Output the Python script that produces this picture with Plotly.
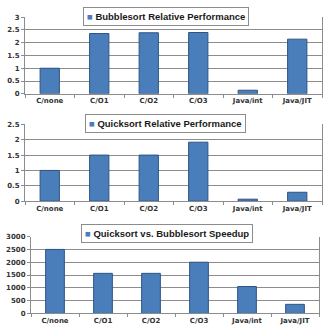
import plotly.graph_objects as go

# Benchmark configurations
categories = ["C/none", "C/O1", "C/O2", "C/O3", "Java/int", "Java/JIT"]

# Relative performance (C/none = 1)
bubblesort_rel = [1.0, 2.36, 2.39, 2.40, 0.14, 2.14]
quicksort_rel = [1.0, 1.50, 1.50, 1.92, 0.065, 0.29]

# Quicksort speedup over bubblesort
speedup = [2500, 1565, 1565, 2000, 1050, 355]

titles = [
    "Bubblesort Relative Performance",
    "Quicksort Relative Performance",
    "Quicksort vs. Bubblesort Speedup",
]

W, H = 331, 335
BAR = "#4A7EBB"
EDGE = "#2F5483"
GRID = "#8C8C8C"
TICKFONT = dict(family="DejaVu Sans", size=7, color="#333333", weight="bold")


def px_x(x):
    return x / W


def px_y(y):
    return 1 - y / H


panels = [
    # values, y range, dtick, plot box (left, right, top, bottom) in px, legend centre
    (bubblesort_rel, [0, 3], 0.5, (25, 322, 13.5, 92), (165.5, 13)),
    (quicksort_rel, [0, 2.5], 0.5, (25, 322, 123.3, 202), (165, 122)),
    (speedup, [0, 3000], 500, (31, 319, 238.3, 317), (166.5, 235.5)),
]

fig = go.Figure()
layout = {}
annotations = []
for i, (vals, yr, dt, box, leg) in enumerate(panels, start=1):
    sx = "" if i == 1 else str(i)
    left, right, top, bottom = box
    fig.add_trace(go.Bar(
        x=categories, y=vals, name=titles[i - 1],
        xaxis="x" + sx, yaxis="y" + sx,
        marker=dict(color=BAR, line=dict(color=EDGE, width=1)),
        width=0.39, showlegend=False,
    ))
    layout["xaxis" + sx] = dict(
        domain=[px_x(left), px_x(right)], anchor="y" + sx,
        showgrid=False, showline=True, linecolor=GRID, linewidth=1,
        ticks="outside", ticklen=3, tickcolor=GRID, tickson="boundaries",
        tickfont=TICKFONT, fixedrange=True,
    )
    layout["yaxis" + sx] = dict(
        domain=[px_y(bottom), px_y(top)], anchor="x" + sx,
        range=yr, dtick=dt, showgrid=True, gridcolor=GRID, gridwidth=1,
        showline=True, linecolor=GRID, linewidth=1, mirror=True,
        ticks="outside", ticklen=3, tickcolor=GRID,
        tickfont=TICKFONT, zeroline=False, fixedrange=True,
    )
    annotations.append(dict(
        x=px_x(leg[0]), y=px_y(leg[1]), xref="paper", yref="paper",
        xanchor="center", yanchor="middle", showarrow=False,
        text=f'<span style="color:{BAR}">■</span> {titles[i - 1]}',
        font=dict(family="Liberation Sans", size=9.5, color="#1a1a1a", weight="bold"),
        bgcolor="white", bordercolor="#8C8C8C", borderwidth=1, borderpad=3,
    ))

fig.update_layout(
    **layout,
    annotations=annotations,
    width=W, height=H,
    margin=dict(l=0, r=0, t=0, b=0),
    paper_bgcolor="white", plot_bgcolor="white",
    bargap=0.6,
)

fig.write_html("out.html")
